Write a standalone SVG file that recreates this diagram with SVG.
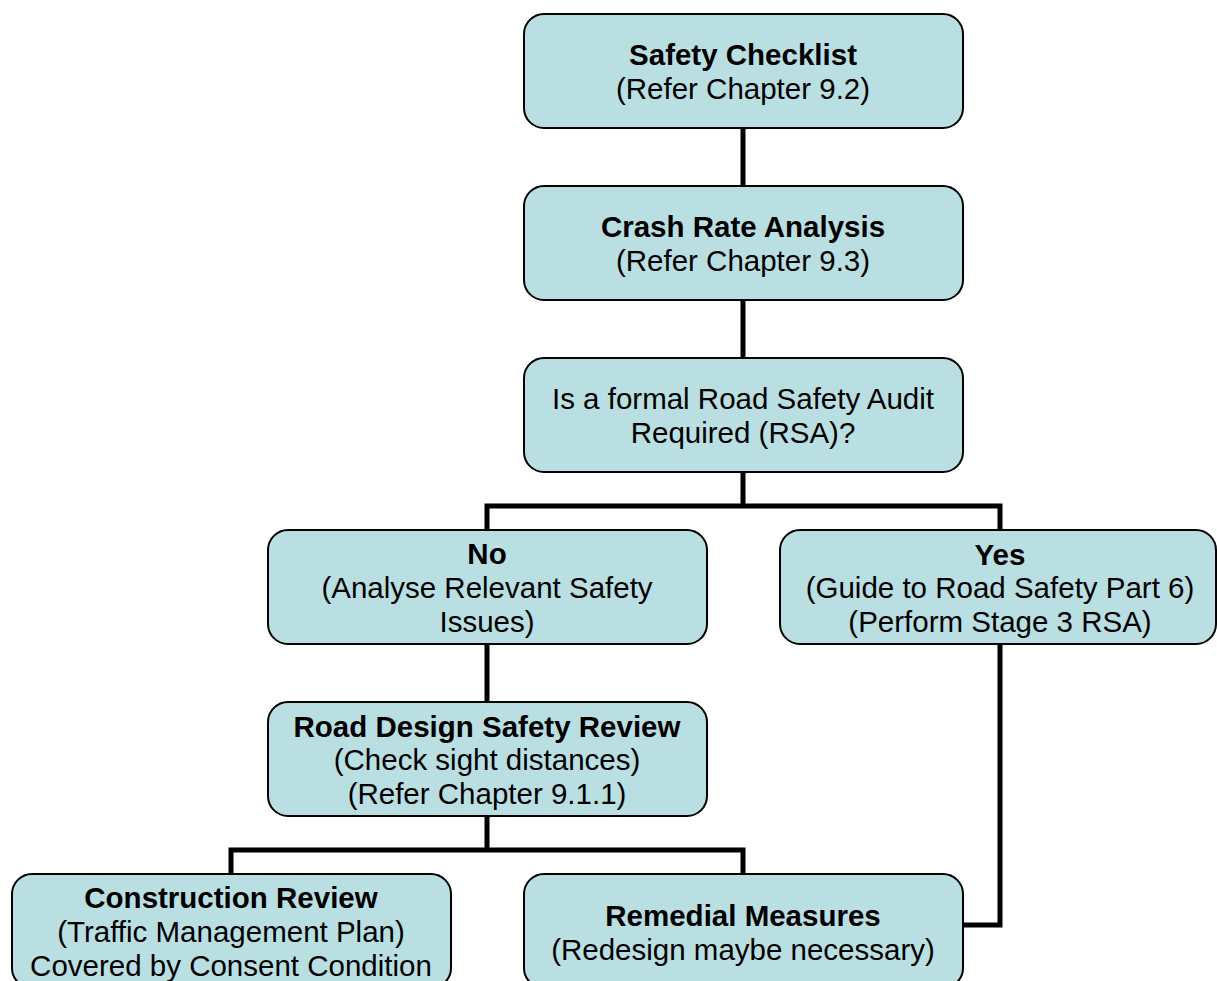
<svg xmlns="http://www.w3.org/2000/svg" width="1217" height="981" viewBox="0 0 1217 981">
  <style>
    .box { fill: #b9dfe3; stroke: #000; stroke-width: 2; }
    .t { font-family: "Liberation Sans", Arial, sans-serif; font-size: 29.5px; fill: #000; text-anchor: middle; }
    .b { font-weight: bold; }
    .wire { fill: none; stroke: #000; stroke-width: 5; stroke-linejoin: miter; stroke-linecap: square; }
  </style>
  <rect width="1217" height="981" fill="#fff"/>

  <!-- connectors -->
  <g id="connectors">
    <path class="wire" d="M743 128 V186"/>
    <path class="wire" d="M743 300 V358"/>
    <path class="wire" d="M743 472 V506 M487 530 V506 H1000 V530"/>
    <path class="wire" d="M487 644 V702"/>
    <path class="wire" d="M487 816 V850 M231 874 V850 H743 V874"/>
    <path class="wire" d="M1000 644 V925 H963"/>
  </g>

  <g id="safety-checklist">
    <rect class="box" x="524" y="14" width="439" height="114" rx="20"/>
    <text class="t b" x="743" y="65">Safety Checklist</text>
    <text class="t" x="743" y="99">(Refer Chapter 9.2)</text>
  </g>

  <g id="crash-rate">
    <rect class="box" x="524" y="186" width="439" height="114" rx="20"/>
    <text class="t b" x="743" y="237">Crash Rate Analysis</text>
    <text class="t" x="743" y="271">(Refer Chapter 9.3)</text>
  </g>

  <g id="rsa-question">
    <rect class="box" x="524" y="358" width="439" height="114" rx="20"/>
    <text class="t" x="743" y="409">Is a formal Road Safety Audit</text>
    <text class="t" x="743" y="443">Required (RSA)?</text>
  </g>

  <g id="no">
    <rect class="box" x="268" y="530" width="439" height="114" rx="20"/>
    <text class="t b" x="487" y="564">No</text>
    <text class="t" x="487" y="598">(Analyse Relevant Safety</text>
    <text class="t" x="487" y="632">Issues)</text>
  </g>

  <g id="yes">
    <rect class="box" x="780" y="530" width="436" height="114" rx="20"/>
    <text class="t b" x="1000" y="565">Yes</text>
    <text class="t" x="1000" y="598">(Guide to Road Safety Part 6)</text>
    <text class="t" x="1000" y="632">(Perform Stage 3 RSA)</text>
  </g>

  <g id="road-design-review">
    <rect class="box" x="268" y="702" width="439" height="114" rx="20"/>
    <text class="t b" x="487" y="737">Road Design Safety Review</text>
    <text class="t" x="487" y="770">(Check sight distances)</text>
    <text class="t" x="487" y="804">(Refer Chapter 9.1.1)</text>
  </g>

  <g id="construction-review">
    <rect class="box" x="12" y="874" width="439" height="114" rx="20"/>
    <text class="t b" x="231" y="908">Construction Review</text>
    <text class="t" x="231" y="942">(Traffic Management Plan)</text>
    <text class="t" x="231" y="976">Covered by Consent Condition</text>
  </g>

  <g id="remedial-measures">
    <rect class="box" x="524" y="874" width="439" height="114" rx="20"/>
    <text class="t b" x="743" y="926">Remedial Measures</text>
    <text class="t" x="743" y="960">(Redesign maybe necessary)</text>
  </g>
</svg>
